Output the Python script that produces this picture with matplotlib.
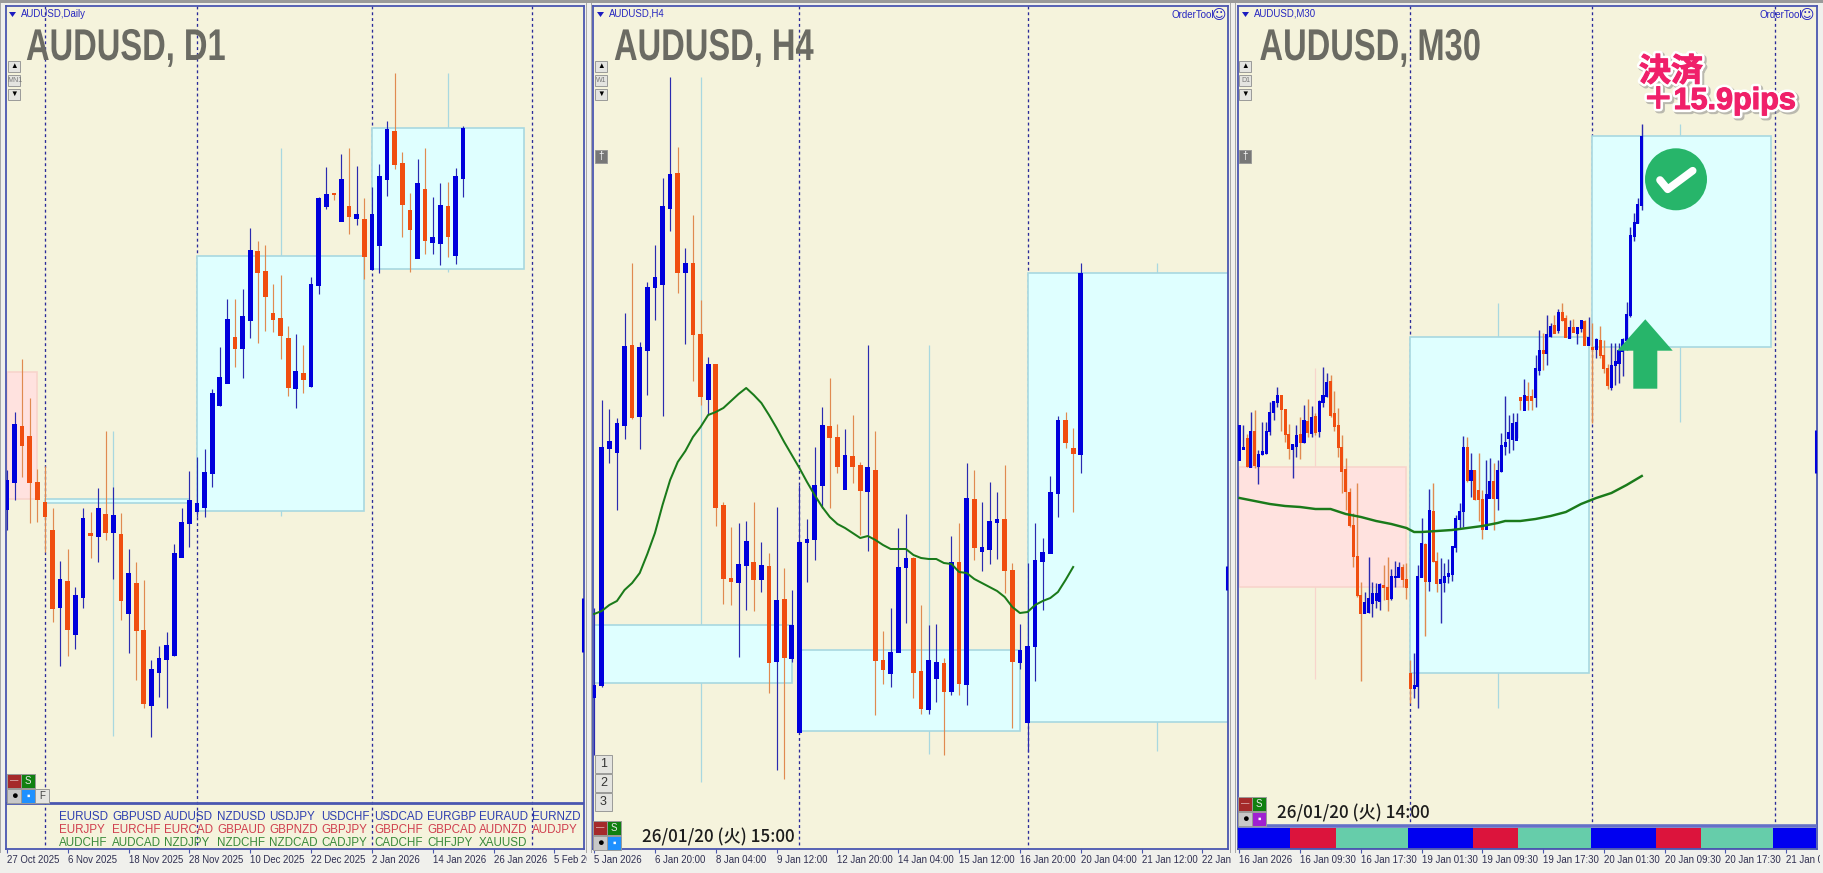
import matplotlib
matplotlib.use("Agg")
import matplotlib.pyplot as plt
import matplotlib.patheffects as pe
from matplotlib.patches import Circle, Polygon, Rectangle
from matplotlib.transforms import Affine2D, Bbox

W, H = 1824, 873
CJK = ["Noto Sans CJK JP", "DejaVu Sans"]
LATIN_CJK = ["Liberation Sans", "Noto Sans CJK JP"]

BG = "#F5F3DC"
UP = "#0000DC"
DOWN = "#F04E10"
UP_WICK = "#2A2AB0"
DOWN_WICK = "#E08A50"
MA_COLOR = "#1A7A1A"
FRAME = "#4A56B0"
DASH = "#2A2A9A"
BOX = "#DFFFFF"
BOX_EDGE = "#A8D8E0"
PINK = "#FFE2DF"
PINK_EDGE = "#F8D4CC"

##### D1
d1_open = [509, 482, 426, 436, 482, 502, 530, 607, 581, 634, 597, 533, 536, 514, 532, 534, 613, 583, 630, 705,
           672, 659, 655, 557, 523, 511, 507, 473, 405, 383, 337, 348, 320, 251, 271, 313, 318, 338, 388, 373,
           386, 285, 206, 193, 221, 206, 218, 219, 269, 245, 179, 131, 163, 210, 258, 189, 242, 243, 206, 255, 178]
d1_close = [480, 424, 445, 482, 499, 516, 608, 579, 629, 595, 518, 535, 508, 532, 515, 600, 573, 630, 703, 669,
            658, 645, 553, 522, 500, 503, 472, 393, 377, 319, 348, 316, 250, 272, 296, 319, 335, 387, 371, 379,
            284, 198, 194, 194, 179, 216, 214, 256, 214, 176, 129, 164, 204, 229, 183, 240, 237, 205, 236, 176, 128]
d1_high = [470, 412, 359, 398, 469, 466, 508, 561, 549, 587, 508, 512, 488, 431, 487, 513, 549, 562, 580, 660,
           646, 632, 544, 508, 471, 457, 449, 389, 347, 299, 299, 289, 228, 241, 245, 284, 275, 326, 334, 345,
           277, 197, 167, 193, 154, 148, 166, 198, 187, 164, 121, 73, 152, 193, 159, 148, 197, 183, 182, 168, 126]
d1_low = [530, 500, 477, 523, 522, 552, 622, 666, 656, 649, 608, 558, 562, 540, 579, 620, 653, 680, 708, 737,
          697, 708, 656, 557, 547, 517, 517, 487, 406, 383, 367, 378, 338, 343, 331, 332, 359, 396, 408, 393,
          387, 294, 209, 200, 221, 234, 225, 279, 270, 273, 196, 169, 237, 272, 258, 254, 254, 265, 257, 264, 197]
d1_ticks = [0, 8, 16, 24, 32, 40, 48, 56, 64, 72]
d1_labels = ["27 Oct 2025", "6 Nov 2025", "18 Nov 2025", "28 Nov 2025", "10 Dec 2025", "22 Dec 2025",
             "2 Jan 2026", "14 Jan 2026", "26 Jan 2026", "5 Feb 20"]
d1_dashes = [5, 25, 48, 69]
# start bar, end bar, top, bottom, mid bar, mid top, mid bottom
d1_pink = [(0, 4, 372, 499, None, 0, 0)]
d1_boxes = [(5, 24, 499, 503, 14, 431, 736), (25, 47, 256, 511, 36, 148, 516), (48, 68, 128, 269, 58, 73, 272)]
d1_edge = (598, 652)

##### H4
h4_open = [697, 685, 448, 452, 425, 345, 416, 350, 287, 284, 208, 173, 272, 263, 334, 399, 364, 505, 578, 582,
           565, 562, 579, 566, 661, 599, 658, 732, 542, 539, 485, 426, 437, 489, 456, 465, 491, 470, 660, 673,
           652, 567, 558, 671, 709, 678, 663, 691, 562, 684, 499, 551, 549, 522, 519, 570, 662, 722, 646, 561,
           553, 493, 420, 448, 454]
h4_close = [685, 447, 441, 423, 346, 417, 347, 287, 277, 206, 174, 272, 263, 334, 396, 364, 507, 578, 581, 564,
            541, 579, 565, 662, 600, 657, 625, 542, 539, 485, 425, 437, 466, 455, 466, 490, 467, 660, 669, 652,
            567, 558, 672, 708, 660, 662, 691, 562, 683, 498, 547, 547, 521, 519, 570, 661, 650, 646, 560, 552,
            492, 420, 442, 453, 273]
h4_high = [608, 400, 409, 418, 313, 263, 342, 282, 245, 178, 77, 147, 248, 215, 300, 357, 364, 502, 527, 523,
           521, 502, 542, 553, 507, 568, 590, 485, 519, 447, 407, 378, 424, 429, 415, 462, 345, 431, 631, 608,
           528, 514, 557, 605, 625, 624, 658, 536, 523, 463, 470, 502, 482, 492, 465, 563, 624, 563, 523, 538,
           476, 416, 412, 428, 263]
h4_low = [755, 687, 463, 510, 439, 419, 449, 395, 320, 416, 231, 293, 344, 381, 405, 415, 526, 604, 605, 657,
          610, 611, 592, 693, 770, 779, 662, 732, 582, 560, 508, 508, 473, 489, 483, 535, 551, 715, 684, 687,
          652, 623, 698, 714, 714, 702, 755, 695, 695, 705, 560, 571, 564, 559, 593, 728, 669, 752, 681, 610,
          553, 517, 448, 512, 473]
h4_ma = [614, 611, 605, 601, 590, 583, 573, 554, 533, 505, 480, 462, 451, 437, 427, 415, 412, 408, 401, 394,
         388, 395, 403, 415, 428, 442, 455, 468, 482, 495, 507, 517, 524, 528, 533, 538, 536, 540, 545, 549,
         549, 549, 555, 558, 559, 559, 563, 564, 572, 573, 579, 583, 587, 591, 597, 607, 613, 612, 605, 601,
         598, 592, 580, 567]
h4_ticks = [0, 8, 16, 24, 32, 40, 48, 56, 64, 72, 80]
h4_labels = ["5 Jan 2026", "6 Jan 20:00", "8 Jan 04:00", "9 Jan 12:00", "12 Jan 20:00", "14 Jan 04:00",
             "15 Jan 12:00", "16 Jan 20:00", "20 Jan 04:00", "21 Jan 12:00", "22 Jan 2"]
h4_dashes = [27, 57]
h4_pink = []
h4_boxes = [(0, 26, 625, 683, 14, 77, 782), (27, 56, 650, 731, 44, 345, 754), (57, 84, 273, 722, 74, 263, 751)]
h4_edge = (566, 590)

##### M30
m30_open = [460, 449, 438, 467, 431, 466, 454, 453, 431, 412, 402, 395, 409, 434, 449, 446, 434, 442, 421, 433,
            416, 431, 402, 396, 381, 413, 425, 447, 469, 492, 525, 556, 595, 613, 612, 603, 600, 601, 585, 587,
            598, 577, 577, 567, 579, 673, 688, 686, 577, 544, 581, 511, 561, 583, 582, 576, 574, 547, 519, 511,
            447, 480, 470, 490, 499, 529, 498, 481, 498, 471, 446, 438, 439, 440, 397, 410, 396, 396, 397, 370,
            350, 353, 336, 325, 330, 312, 318, 338, 327, 333, 328, 321, 345, 347, 349, 340, 355, 368, 387, 365,
            363, 351, 340, 315, 236, 223, 205]
m30_close = [425, 447, 466, 431, 465, 454, 451, 431, 412, 401, 395, 409, 434, 448, 444, 435, 442, 420, 432, 417,
             432, 401, 395, 382, 415, 426, 447, 471, 491, 525, 556, 595, 613, 602, 598, 593, 593, 584, 587, 599,
             576, 576, 567, 579, 587, 688, 685, 576, 543, 581, 510, 561, 583, 579, 576, 573, 546, 518, 511, 447,
             480, 470, 499, 499, 529, 494, 481, 498, 470, 445, 442, 432, 423, 422, 400, 395, 400, 400, 368, 350,
             353, 334, 326, 333, 312, 320, 337, 327, 332, 327, 320, 345, 337, 349, 339, 355, 368, 385, 365, 361,
             350, 339, 314, 235, 222, 204, 136]
m30_high = [425, 425, 434, 412, 410, 450, 422, 422, 402, 401, 387, 395, 409, 424, 444, 425, 417, 405, 399, 406,
            413, 400, 367, 373, 375, 391, 408, 435, 458, 488, 513, 483, 582, 592, 557, 582, 583, 583, 565, 557,
            569, 561, 562, 564, 563, 660, 653, 565, 518, 543, 489, 483, 552, 558, 563, 559, 546, 515, 503, 436,
            437, 453, 470, 453, 490, 460, 458, 463, 460, 433, 396, 415, 413, 413, 397, 379, 382, 389, 355, 330,
            333, 315, 323, 315, 309, 303, 315, 320, 319, 327, 320, 320, 317, 323, 338, 326, 340, 364, 343, 343,
            343, 338, 302, 227, 213, 198, 124]
m30_low = [460, 449, 467, 467, 468, 484, 455, 454, 435, 420, 407, 431, 442, 459, 478, 457, 459, 443, 437, 437,
           435, 437, 407, 397, 417, 431, 457, 493, 510, 527, 567, 597, 681, 613, 613, 617, 608, 610, 600, 611,
           600, 587, 577, 587, 599, 703, 698, 708, 577, 636, 591, 562, 592, 623, 592, 583, 581, 552, 529, 527,
           482, 497, 500, 521, 539, 529, 498, 530, 510, 472, 455, 453, 450, 438, 410, 410, 410, 410, 407, 375,
           370, 365, 337, 333, 333, 321, 337, 338, 332, 344, 332, 345, 345, 423, 358, 358, 373, 389, 390, 385,
           383, 376, 350, 317, 241, 223, 210]
m30_ma_x = [0, 4, 8, 12, 16, 20, 24, 28, 32, 36, 40, 44, 46, 48, 52, 56, 60, 64, 68, 70, 74, 78, 82, 86, 90, 94, 98,
            102, 106]
m30_ma = [498, 501, 504, 506, 507, 509, 509, 514, 517, 521, 524, 528, 532, 532, 531, 530, 528, 526, 523, 521, 521,
          519, 516, 512, 504, 498, 493, 485, 476]
m30_ticks = [0, 16, 32, 48, 64, 80, 96, 112, 128, 144]
m30_labels = ["16 Jan 2026", "16 Jan 09:30", "16 Jan 17:30", "19 Jan 01:30", "19 Jan 09:30", "19 Jan 17:30",
              "20 Jan 01:30", "20 Jan 09:30", "20 Jan 17:30", "21 Jan 0:"]
m30_dashes = [45, 93, 141]
m30_pink = [(0, 44, 467, 587, 20, 368, 679)]
m30_boxes = [(45, 92, 337, 673, 68, 303, 708), (93, 140, 136, 347, 116, 124, 422)]
m30_edge = (430, 473)
session_edges = [-0.3, 13.3, 25.5, 44.5, 61.5, 73.5, 92.5, 109.7, 121.7, 140.7, 152]
session_colors = ["#0000F0", "#DC143C", "#66CDAA", "#0000F0", "#DC143C", "#66CDAA", "#0000F0", "#DC143C", "#66CDAA",
                  "#0000F0"]

pairs_blue = ["EURUSD", "GBPUSD", "AUDUSD", "NZDUSD", "USDJPY", "USDCHF", "USDCAD", "EURGBP", "EURAUD", "EURNZD"]
pairs_red = ["EURJPY", "EURCHF", "EURCAD", "GBPAUD", "GBPNZD", "GBPJPY", "GBPCHF", "GBPCAD", "AUDNZD", "AUDJPY"]
pairs_green = ["AUDCHF", "AUDCAD", "NZDJPY", "NZDCHF", "NZDCAD", "CADJPY", "CADCHF", "CHFJPY", "XAUUSD"]


class Squeeze(pe.AbstractPathEffect):
    # the title font in the picture is narrow, no narrow family is installed
    def __init__(self, sx):
        super().__init__()
        self.sx = sx

    def draw_path(self, renderer, gc, tpath, affine, rgbFace=None):
        renderer.draw_path(gc, tpath, Affine2D().scale(self.sx, 1) + affine, rgbFace)


def px_axes(fig, left, right, top=6, bottom=849):
    return fig.add_axes([left / W, 1 - bottom / H, (right - left) / W, (bottom - top) / H])


def candles(ax, opens, closes, highs, lows, width, wick_lw=0.85):
    xs = range(len(opens))
    for i in xs:
        up = closes[i] < opens[i]
        ax.vlines(i, highs[i], lows[i], color=UP_WICK if up else DOWN_WICK, lw=wick_lw, zorder=4)
        ax.bar(i, abs(opens[i] - closes[i]) + 1, bottom=min(opens[i], closes[i]), width=width,
               color=UP if up else DOWN, linewidth=0, zorder=5)


def boxes(ax, items, face, edge):
    for start, end, top, bottom, mid, mtop, mbot in items:
        ax.add_patch(Rectangle((start, top), end - start, bottom - top, facecolor=face, edgecolor=edge, lw=1.2, zorder=2))
        if mid is not None:
            ax.vlines(mid, mtop, mbot, color=edge, lw=0.9, zorder=1.5)


def panel(fig, left, right, x0, step, ticks, labels, dashes, pink, cyan, edge, dash_end):
    ax = px_axes(fig, left, right)
    ax.set_facecolor(BG)
    ax.set_xlim((left - x0) / step, (right - x0) / step)
    ax.set_ylim(849, 6)
    ax.set_yticks([])
    ax.set_xticks(ticks)
    ax.set_xticklabels(labels, ha="left", fontsize=6.9, color="#2E2E50", family="Liberation Sans")
    ax.tick_params(axis="x", length=3, width=0.8, color=FRAME, pad=1.5)
    for lab in ax.get_xticklabels():
        lab.set_clip_box(Bbox([[left - 2, 0], [right + 3, H]]))
        lab.set_clip_on(True)
    for s in ax.spines.values():
        s.set_color(FRAME)
        s.set_linewidth(1.3)
    ax.vlines(dashes, 6, dash_end, color=DASH, lw=0.95, linestyles=(0, (2.2, 2.2)), zorder=1)
    boxes(ax, pink, PINK, PINK_EDGE)
    boxes(ax, cyan, BOX, BOX_EDGE)
    ax.vlines(ax.get_xlim()[1] - 0.15 * 7.6 / step, edge[0], edge[1], color=UP, lw=2.2, zorder=5)
    return ax


fig = plt.figure(figsize=(W / 100, H / 100), dpi=100, facecolor="#F0F0EC")

ax1 = panel(fig, 6, 584, 6.9, 7.604, d1_ticks, d1_labels, d1_dashes, d1_pink, d1_boxes, d1_edge, 849)
candles(ax1, d1_open, d1_close, d1_high, d1_low, 0.62)
ax1.axhline(803, color=FRAME, lw=2, zorder=6)

ax2 = panel(fig, 593, 1228, 594.1, 7.604, h4_ticks, h4_labels, h4_dashes, h4_pink, h4_boxes, h4_edge, 849)
candles(ax2, h4_open, h4_close, h4_high, h4_low, 0.62)
ax2.plot(range(len(h4_ma)), h4_ma, color=MA_COLOR, lw=1.45, zorder=6)

ax3 = panel(fig, 1238, 1817, 1239.5, 3.795, m30_ticks, m30_labels, m30_dashes, m30_pink, m30_boxes, m30_edge, 825)
candles(ax3, m30_open, m30_close, m30_high, m30_low, 0.8, wick_lw=1.0)
ax3.plot(m30_ma_x, m30_ma, color=MA_COLOR, lw=1.75, zorder=6)
ax3.axhline(825.5, color="#6470C8", lw=2.6, zorder=6)
ax3.axhline(849, color=FRAME, lw=1.3, zorder=6)
for i, c in enumerate(session_colors):
    ax3.bar(session_edges[i], 20, bottom=828, width=session_edges[i + 1] - session_edges[i], align="edge",
            color=c, linewidth=0, zorder=5)

# overlay in pixels for the terminal's buttons and captions
ov = fig.add_axes([0, 0, 1, 1], zorder=10)
ov.set_xlim(0, W)
ov.set_ylim(H, 0)
ov.axis("off")
ov.patch.set_alpha(0)
ov.add_patch(Rectangle((0, 0), W, 3, color="#9A9A9A", lw=0))
for x in (0, 586, 591, 1230, 1235):
    ov.add_patch(Rectangle((x, 3), 1.5, 850, color="#A8A8A8", lw=0))


def button(x, y, w, h, text="", face="#E4E4E0", color="black", size=7):
    ov.add_patch(Rectangle((x, y), w, h, facecolor=face, edgecolor="#9A9A98", lw=0.7))
    if text:
        ov.text(x + w / 2, y + h / 2, text, ha="center", va="center", fontsize=size, color=color,
                family=["Liberation Sans", "DejaVu Sans"])


titles = [(26, "AUDUSD, D1"), (614, "AUDUSD, H4"), (1259.5, "AUDUSD, M30")]
for x, t in titles:
    ov.text(x, 60, t, fontsize=32, fontweight="bold", color="#6B6B63", family="Liberation Sans", va="baseline",
            path_effects=[Squeeze(0.735)])

headers = [(9, 21, "AUDUSD,Daily"), (597, 609, "AUDUSD,H4"), (1242, 1253.5, "AUDUSD,M30")]
for xa, x, t in headers:
    ov.add_patch(Polygon([(xa, 12), (xa + 7, 12), (xa + 3.5, 17)], color="#1C1CC0", lw=0))
    ov.text(x, 14, t, fontsize=6.9, color="#2525C0", va="center", family="Liberation Sans")

for x in (1172, 1759.5):
    ov.text(x, 15, "OrderTool", fontsize=7, color="#2525C0", va="center", family="Liberation Sans")
    ov.text(x + 40, 15, "\u263a", fontsize=10, color="#2525C0", va="center", family="DejaVu Sans")

period_buttons = [(8.5, "MN1"), (595, "W1"), (1239.5, "D1")]
for x, t in period_buttons:
    button(x, 61, 12, 11, "\u25b2", size=5.5)
    button(x, 75, 12, 11, t, color="#777777", size=5)
    button(x, 89, 12, 11, "\u25bc", size=5.5)

for x in (595, 1239.5):
    button(x, 150, 12, 13, "\u2020", face="#777777", color="white", size=7)

# bottom left tool buttons
tool_sets = [(7, 774, "#1E90FF"), (593, 821, "#1E90FF"), (1238, 797, "#A020D0")]
for x, y, sq in tool_sets:
    button(x, y, 14, 14, "\u2014", face="#A52A2A", color="white", size=6)
    button(x + 14, y, 14, 14, "S", face="#108010", color="#E8E8E8", size=7)
    button(x, y + 15, 14, 14, "\u25cf", face="#C8C8C8", color="black", size=8)
    button(x + 14, y + 15, 14, 14, "\u25aa", face=sq, color="white", size=7)
button(35, 789, 14, 14, "F", size=7, color="#444444")

for y, t in ((755, "1"), (774, "2"), (793, "3")):
    button(595, y, 17, 18, t, size=9, color="#333333")

ov.text(642, 837, "26/01/20 (\u706b) 15:00", fontsize=12.3, fontweight="medium", color="#1C1C1C", va="center",
        family=CJK)
ov.text(1277, 813, "26/01/20 (\u706b) 14:00", fontsize=12.3, fontweight="medium", color="#1C1C1C", va="center",
        family=CJK)

# symbol table under the D1 chart
pair_x = [59, 112, 164, 217, 269, 321.5, 374, 427, 479, 532]
for row, y, col in ((pairs_blue, 817, "#2F3FB0"), (pairs_red, 830, "#D0404F"), (pairs_green, 842.5, "#3A8A3A")):
    for x, t in zip(pair_x, row):
        ov.text(x, y, t, fontsize=8.4, color=col, va="center", family="Liberation Sans")

# trade result marks on the M30 chart
green = "#27B56A"
ov.add_patch(Circle((1676, 179.3), 31, color=green, lw=0))
ov.plot([1660, 1667.7, 1692.7], [180, 189.3, 170.7], color="white", lw=5.5, solid_capstyle="round",
        solid_joinstyle="round")
ov.add_patch(Polygon([(1645.3, 319.3), (1672.7, 350.7), (1657.3, 350.7), (1657.3, 388.7), (1633.3, 388.7),
                      (1633.3, 350.7), (1617.3, 350.7)], color=green, lw=0))

pink_text = "#F0206A"
halo = [pe.Stroke(linewidth=5, foreground="#8A8A8A", offset=(1.2, -1.2), alpha=0.55),
        pe.Stroke(linewidth=4.5, foreground="white"),
        pe.Stroke(linewidth=0.8, foreground=pink_text),
        pe.Normal()]
ov.text(1639, 72, "\u6c7a\u6e08", fontsize=23, fontweight="bold", color=pink_text, va="center", family=CJK,
        path_effects=halo)
ov.text(1643, 101, "\uff0b15.9pips", fontsize=22, fontweight="bold", color=pink_text, va="center", family=LATIN_CJK,
        path_effects=halo)

fig.savefig("out.png", dpi=100, facecolor=fig.get_facecolor())
